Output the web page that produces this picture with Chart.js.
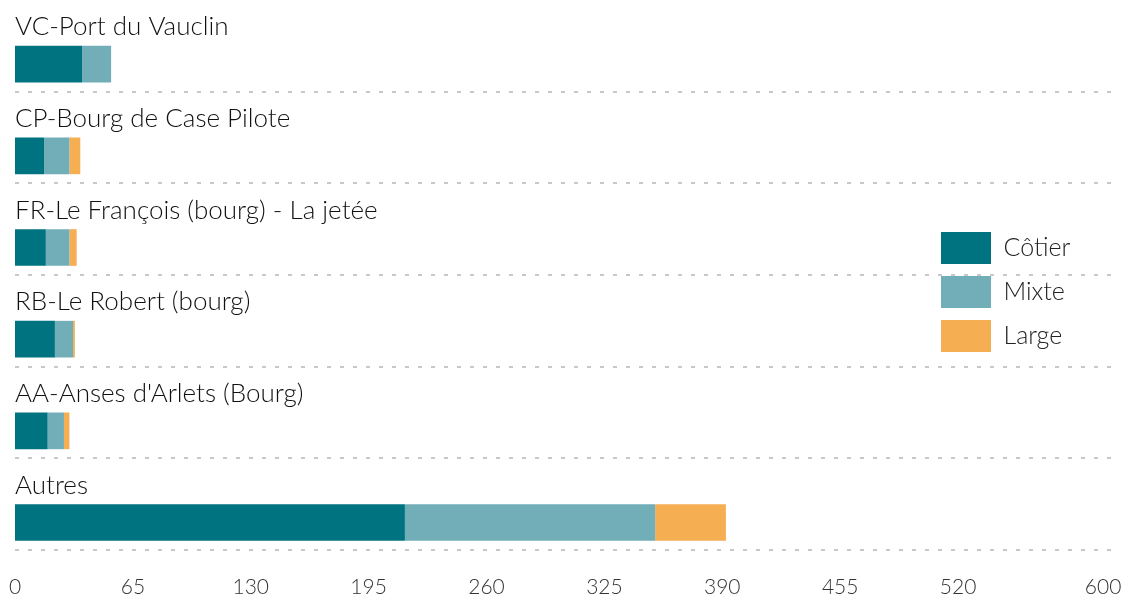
<!DOCTYPE html>
<html>
<head>
<meta charset="utf-8">
<script src="https://cdn.jsdelivr.net/npm/chart.js@4.4.1/dist/chart.umd.min.js"></script>
<style>
  body { margin: 0; background: #fff; }
  #wrap { width: 1132px; height: 599px; }
</style>
</head>
<body>
<div id="wrap"><canvas id="ports"></canvas></div>
<script>
const ports = [
    "VC-Port du Vauclin",
    "CP-Bourg de Case Pilote",
    "FR-Le François (bourg) - La jetée",
    "RB-Le Robert (bourg)",
    "AA-Anses d'Arlets (Bourg)",
    "Autres"
];
const cotier = [37, 16, 17, 22, 18, 215];
const mixte = [16, 14, 13, 10, 9, 138];
const large = [0, 6, 4, 1, 3, 39];
// empty stack so the real bars sit in the lower half of each row, under their label
const spacer = [0, 0, 0, 0, 0, 0];
const xTicks = [0, 65, 130, 195, 260, 325, 390, 455, 520, 600];

const labelFont = "Lato, 'Open Sans', sans-serif";

// the legend sits over the chart area, at the right
const moveLegend = {
    id: 'moveLegend',
    afterLayout(chart) {
        chart.legend.left = 929;
        chart.legend.top = 220;
    }
};

const ctx = document.getElementById("ports").getContext("2d");

new Chart(ctx, {
    type: 'bar',
    data: {
        labels: ports,
        datasets: [
            { label: '', data: spacer, stack: 'vide', backgroundColor: 'rgba(0,0,0,0)' },
            { label: 'Côtier', data: cotier, stack: 'flotte', backgroundColor: '#007380' },
            { label: 'Mixte', data: mixte, stack: 'flotte', backgroundColor: '#72aeb8' },
            { label: 'Large', data: large, stack: 'flotte', backgroundColor: '#f5ae52' }
        ]
    },
    options: {
        indexAxis: 'y',
        responsive: true,
        maintainAspectRatio: false,
        animation: false,
        categoryPercentage: 0.8,
        barPercentage: 1.0,
        borderWidth: 0,
        layout: { padding: { left: 15, right: 18, top: 0, bottom: 0 } },
        scales: {
            x: {
                type: 'linear',
                stacked: true,
                min: 0,
                max: 606,
                afterBuildTicks: (axis) => {
                    axis.ticks = xTicks.map(v => ({ value: v }));
                },
                afterFit: (axis) => {
                    axis.height = 49;
                    axis.paddingLeft = 0;
                    axis.paddingRight = 0;
                },
                grid: { display: false, drawTicks: false },
                border: { display: false },
                ticks: {
                    padding: 25,
                    autoSkip: false,
                    maxRotation: 0,
                    color: '#333',
                    font: { family: "'Liberation Sans Narrow', Lato, sans-serif", size: 21, weight: 300 }
                }
            },
            y: {
                afterFit: (axis) => {
                    axis.paddingTop = 0;
                    axis.paddingBottom = 0;
                },
                grid: {
                    offset: true,
                    drawTicks: false,
                    lineWidth: 2,
                    color: (c) => c.index === 0 ? 'rgba(0,0,0,0)' : '#c8c8c8'
                },
                border: { display: false, dash: [4, 9] },
                ticks: {
                    mirror: true,
                    padding: 0,
                    labelOffset: -19,
                    color: '#111',
                    font: { family: labelFont, size: 26, weight: 300 }
                }
            }
        },
        plugins: {
            tooltip: { enabled: false },
            legend: {
                position: 'chartArea',
                align: 'start',
                labels: {
                    boxWidth: 50,
                    boxHeight: 32,
                    padding: 12,
                    color: '#222',
                    font: { family: labelFont, size: 25, weight: 300 },
                    filter: (item) => item.text !== ''
                }
            }
        }
    },
    plugins: [moveLegend]
});
</script>
</body>
</html>
